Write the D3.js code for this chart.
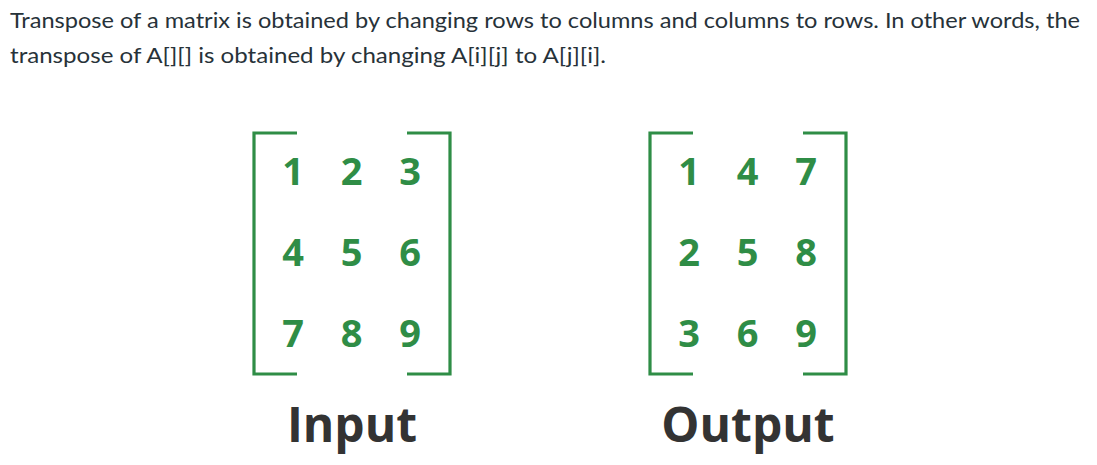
<!DOCTYPE html>
<html>
<head>
<meta charset="utf-8">
<script src="https://cdn.jsdelivr.net/npm/d3@7"></script>
<style>
  html, body { margin: 0; padding: 0; background: #fff; }
  svg { display: block; }
</style>
</head>
<body>
<svg id="chart" width="1097" height="465"></svg>
<script>
// ---- data ----
const headerLines = [
  "Transpose of a matrix is obtained by changing rows to columns and columns to rows. In other words, the",
  "transpose of A[][] is obtained by changing A[i][j] to A[j][i]."
];
const inputMatrix = [
  [1, 2, 3],
  [4, 5, 6],
  [7, 8, 9]
];
const outputMatrix = [
  [1, 4, 7],
  [2, 5, 8],
  [3, 6, 9]
];
const matrixLabels = ["Input", "Output"];

// ---- layout ----
const svg = d3.select("#chart");
const green = "#2f8d46";
const textColor = "#273239";

// header text
const headerY = d3.scalePoint().domain([0, 1]).range([28, 63]);
const headerLen = [1070, 596];
svg.selectAll("text.header")
  .data(headerLines)
  .join("text")
  .attr("class", "header")
  .attr("x", 10)
  .attr("y", (d, i) => headerY(i))
  .attr("textLength", (d, i) => headerLen[i])
  .attr("lengthAdjust", "spacingAndGlyphs")
  .attr("font-family", "Lato, 'Open Sans', sans-serif")
  .attr("font-size", 21)
  .attr("fill", textColor)
  .text(d => d);

const matrices = [
  { data: inputMatrix, left: 254, label: matrixLabels[0] },
  { data: outputMatrix, left: 650, label: matrixLabels[1] }
];
const mWidth = 196, mTop = 133, mBottom = 374, arm = 43;

matrices.forEach(m => {
  const g = svg.append("g");
  const x = d3.scalePoint().domain([0, 1, 2]).range([m.left + 39, m.left + 156]);
  const y = d3.scalePoint().domain([0, 1, 2]).range([185, 347]);
  const right = m.left + mWidth;

  // brackets
  const lb = d3.path();
  lb.moveTo(m.left + arm, mTop); lb.lineTo(m.left, mTop); lb.lineTo(m.left, mBottom); lb.lineTo(m.left + arm, mBottom);
  const rb = d3.path();
  rb.moveTo(right - arm, mTop); rb.lineTo(right, mTop); rb.lineTo(right, mBottom); rb.lineTo(right - arm, mBottom);
  g.selectAll("path.br").data([lb.toString(), rb.toString()]).join("path")
    .attr("class", "br")
    .attr("d", d => d)
    .attr("fill", "none")
    .attr("stroke", green)
    .attr("stroke-width", 3.2);

  // cells
  const cells = m.data.flatMap((row, r) => row.map((v, c) => ({ r, c, v })));
  g.selectAll("text.cell").data(cells).join("text")
    .attr("class", "cell")
    .attr("x", d => x(d.c))
    .attr("y", d => y(d.r))
    .attr("text-anchor", "middle")
    .attr("font-family", "'Open Sans', sans-serif")
    .attr("font-weight", 700)
    .attr("font-size", 38)
    .attr("fill", green)
    .text(d => d.v);

  // label
  g.append("text")
    .attr("x", m.left + 98)
    .attr("y", 442)
    .attr("text-anchor", "middle")
    .attr("font-family", "'Open Sans', sans-serif")
    .attr("font-weight", 700)
    .attr("font-size", 48)
    .attr("fill", "#333333")
    .text(m.label);
});
</script>
</body>
</html>
